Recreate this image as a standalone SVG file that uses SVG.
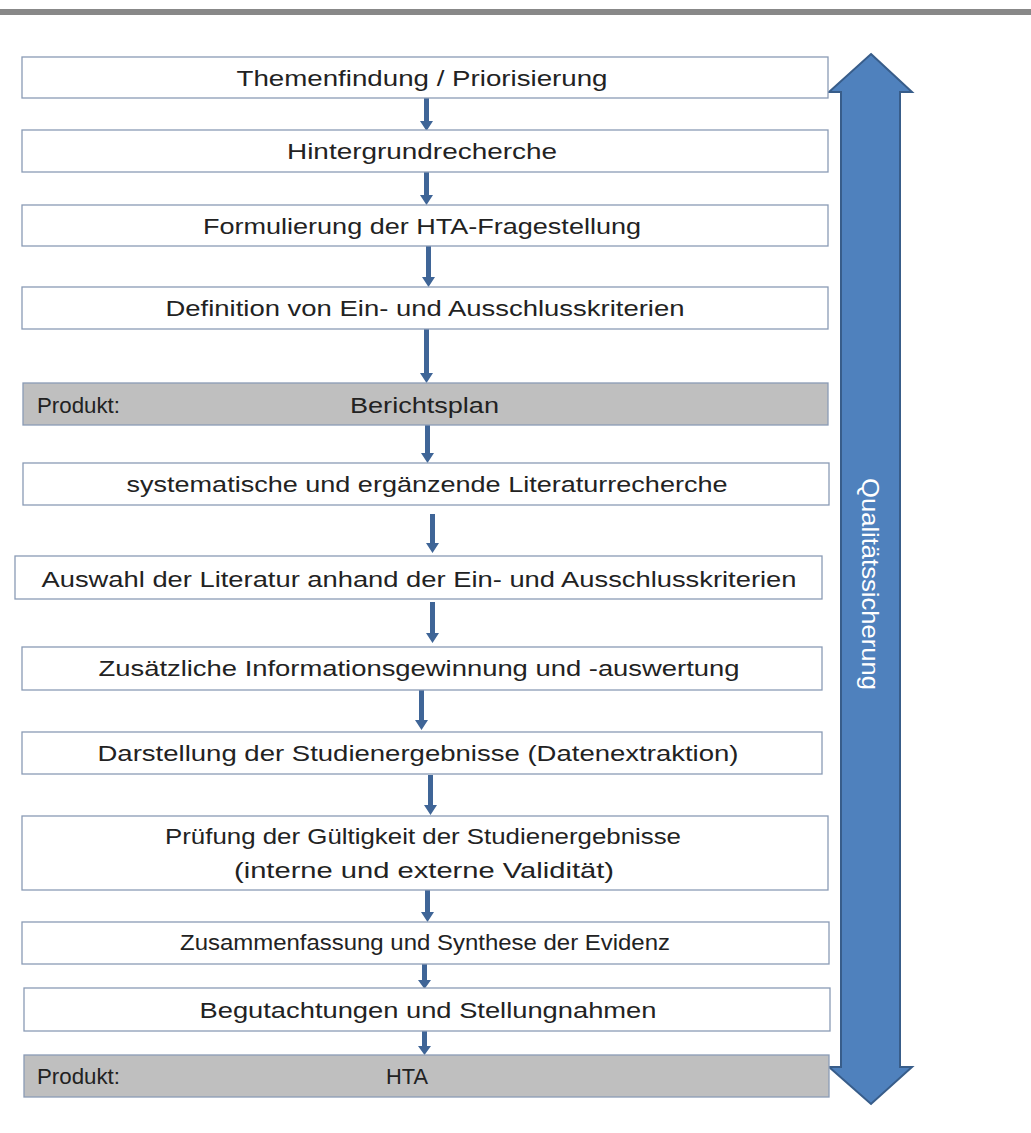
<svg xmlns="http://www.w3.org/2000/svg" width="1031" height="1133" viewBox="0 0 1031 1133">
<style>
.box{fill:#ffffff;stroke:#8a9bb5;stroke-width:1.3}
.prod{fill:#bfbfbf;stroke:#8a9bb5;stroke-width:1.3}
.t{font-family:"Liberation Sans",Arial,sans-serif;font-size:22px;fill:#222222}
.c{text-anchor:middle}
.conn{fill:#3f6597}
</style>
<rect x="0" y="9" width="1031" height="6" fill="#888888"/>
<g id="qs">
<path d="M871,54 L912,92 L900,92 L900,1067 L912,1067 L871,1104 L829,1067 L841,1067 L841,92 L829,92 Z" fill="#4f81bd" stroke="#385d8a" stroke-width="2"/>
<text class="t" transform="translate(862,584) rotate(90)" text-anchor="middle" style="fill:#ffffff;font-size:24px" textLength="212" lengthAdjust="spacingAndGlyphs">Qualitätssicherung</text>
</g>
<g id="connectors" class="conn">
<path d="M424,98 H429 V121 H433 L426.5,131 L420,121 H424 Z"/>
<path d="M424,172 H429 V195 H433 L426.5,205 L420,195 H424 Z"/>
<path d="M426,246 H431 V277 H435 L428.5,287 L422,277 H426 Z"/>
<path d="M424,329 H429 V373 H433 L426.5,383 L420,373 H424 Z"/>
<path d="M425,425 H430 V453 H434 L427.5,463 L421,453 H425 Z"/>
<path d="M430,514 H435 V543 H439 L432.5,553 L426,543 H430 Z"/>
<path d="M430,602 H435 V633 H439 L432.5,643 L426,633 H430 Z"/>
<path d="M419,690 H424 V720 H428 L421.5,730 L415,720 H419 Z"/>
<path d="M428,775 H433 V805 H437 L430.5,815 L424,805 H428 Z"/>
<path d="M425,890 H430 V912 H434 L427.5,922 L421,912 H425 Z"/>
<path d="M422,964 H427 V980 H431 L424.5,989 L418,980 H422 Z"/>
<path d="M422,1031 H427 V1046 H431 L424.5,1055 L418,1046 H422 Z"/>
</g>
<g id="n1"><rect class="box" x="22" y="57" width="806" height="41"/><text class="t c" x="422" y="86" textLength="371" lengthAdjust="spacingAndGlyphs">Themenfindung / Priorisierung</text></g>
<g id="n2"><rect class="box" x="22" y="130" width="806" height="42"/><text class="t c" x="422" y="159" textLength="270" lengthAdjust="spacingAndGlyphs">Hintergrundrecherche</text></g>
<g id="n3"><rect class="box" x="22" y="205" width="806" height="41"/><text class="t c" x="422" y="234" textLength="438" lengthAdjust="spacingAndGlyphs">Formulierung der HTA-Fragestellung</text></g>
<g id="n4"><rect class="box" x="22" y="287" width="806" height="42"/><text class="t c" x="425" y="316" textLength="519" lengthAdjust="spacingAndGlyphs">Definition von Ein- und Ausschlusskriterien</text></g>
<g id="n5"><rect class="prod" x="23" y="383" width="805" height="42"/><text class="t" x="37" y="413" textLength="83" lengthAdjust="spacingAndGlyphs">Produkt:</text><text class="t" x="350" y="413" textLength="149" lengthAdjust="spacingAndGlyphs">Berichtsplan</text></g>
<g id="n6"><rect class="box" x="23" y="463" width="806" height="42"/><text class="t c" x="427" y="492" textLength="601" lengthAdjust="spacingAndGlyphs">systematische und ergänzende Literaturrecherche</text></g>
<g id="n7"><rect class="box" x="15" y="556" width="807" height="43"/><text class="t c" x="419" y="587" textLength="755" lengthAdjust="spacingAndGlyphs">Auswahl der Literatur anhand der Ein- und Ausschlusskriterien</text></g>
<g id="n8"><rect class="box" x="22" y="647" width="800" height="43"/><text class="t c" x="419" y="676" textLength="641" lengthAdjust="spacingAndGlyphs">Zusätzliche Informationsgewinnung und -auswertung</text></g>
<g id="n9"><rect class="box" x="22" y="732" width="800" height="42"/><text class="t c" x="418" y="761" textLength="641" lengthAdjust="spacingAndGlyphs">Darstellung der Studienergebnisse (Datenextraktion)</text></g>
<g id="n10"><rect class="box" x="22" y="816" width="806" height="74"/><text class="t c" x="423" y="844" textLength="516" lengthAdjust="spacingAndGlyphs">Prüfung der Gültigkeit der Studienergebnisse</text><text class="t c" x="424" y="878" textLength="380" lengthAdjust="spacingAndGlyphs">(interne und externe Validität)</text></g>
<g id="n11"><rect class="box" x="22" y="922" width="807" height="42"/><text class="t c" x="425" y="950" textLength="490" lengthAdjust="spacingAndGlyphs">Zusammenfassung und Synthese der Evidenz</text></g>
<g id="n12"><rect class="box" x="24" y="988" width="806" height="43"/><text class="t c" x="428" y="1018" textLength="457" lengthAdjust="spacingAndGlyphs">Begutachtungen und Stellungnahmen</text></g>
<g id="n13"><rect class="prod" x="24" y="1055" width="805" height="42"/><text class="t" x="37" y="1084" textLength="83" lengthAdjust="spacingAndGlyphs">Produkt:</text><text class="t" x="386" y="1084" textLength="42" lengthAdjust="spacingAndGlyphs">HTA</text></g>
</svg>
